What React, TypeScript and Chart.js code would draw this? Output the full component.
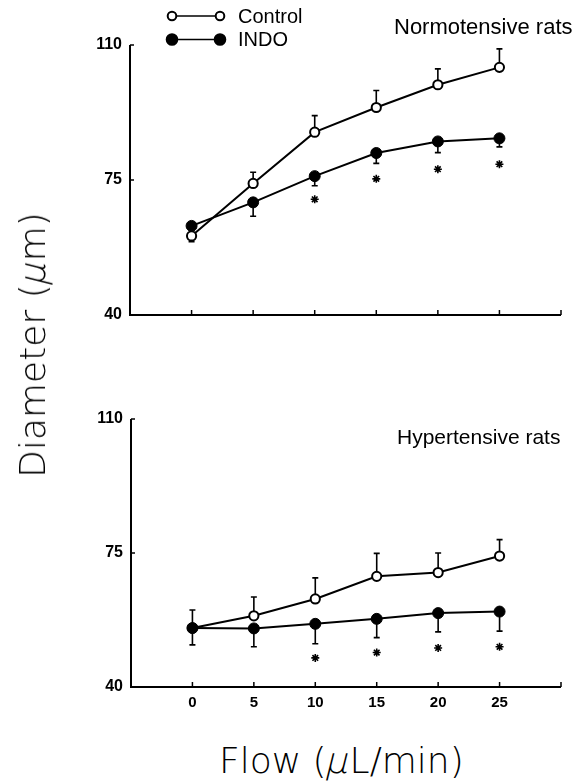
import React, { useEffect, useRef } from "react";
import { Chart, registerables } from "chart.js";

Chart.register(...registerables);

// ---- data ----
const flow = [0, 5, 10, 15, 20, 25];
const xTickValues = [0, 5, 10, 15, 20, 25];
const yTickValues = [40, 75, 110];
const starFlow = [10, 15, 20, 25];

const normoControl = [60.5, 74.1, 87.4, 93.8, 99.7, 104.2];
const normoControlErrUp = [0, 2.9, 4.3, 4.4, 4.1, 4.8];
const normoControlErrDown = [1.5, 0, 0, 0, 0, 0];
const normoIndo = [63.1, 69.2, 76.0, 82.0, 85.0, 85.8];
const normoIndoErrDown = [0, 3.6, 2.5, 2.7, 2.9, 2.2];
const normoStars = [70.0, 75.3, 77.8, 79.1];

const hyperControl = [55.4, 58.6, 63.0, 68.9, 69.9, 74.2];
const hyperControlErrUp = [4.7, 4.9, 5.5, 6.0, 5.1, 4.3];
const hyperIndo = [55.4, 55.3, 56.5, 57.8, 59.3, 59.7];
const hyperIndoErrDown = [4.4, 4.8, 5.2, 4.9, 4.9, 5.1];
const hyperStars = [47.6, 49.0, 50.2, 50.5];

const legendLabels = ["Control", "INDO"];

type Bar = { values: number[]; up?: number[]; down?: number[] };

const errorBarPlugin = {
  id: "errorBars",
  beforeDatasetsDraw(chart: any, _args: any, opts: any) {
    const ctx = chart.ctx;
    const xs = chart.scales.x;
    const ys = chart.scales.y;
    ctx.save();
    ctx.strokeStyle = "#000";
    ctx.lineWidth = 1.6;
    (opts.bars as Bar[]).forEach((bar) => {
      flow.forEach((f, i) => {
        const px = xs.getPixelForValue(f);
        const v = bar.values[i];
        const py = ys.getPixelForValue(v);
        const parts: [number, number][] = [
          [bar.up ? bar.up[i] : 0, 1],
          [bar.down ? bar.down[i] : 0, -1],
        ];
        parts.forEach(([err, sign]) => {
          if (!err) return;
          const pe = ys.getPixelForValue(v + sign * err);
          ctx.beginPath();
          ctx.moveTo(px, py);
          ctx.lineTo(px, pe);
          ctx.moveTo(px - 3, pe);
          ctx.lineTo(px + 3, pe);
          ctx.stroke();
        });
      });
    });
    ctx.restore();
  },
};

const axesPlugin = {
  id: "axesDraw",
  afterDraw(chart: any) {
    const ctx = chart.ctx;
    const xs = chart.scales.x;
    const ys = chart.scales.y;
    const { left, right, top, bottom } = chart.chartArea;
    ctx.save();
    ctx.strokeStyle = "#000";
    ctx.lineWidth = 2;
    ctx.beginPath();
    ctx.moveTo(left, top);
    ctx.lineTo(left, bottom);
    ctx.lineTo(right, bottom);
    ctx.stroke();
    ctx.lineWidth = 1.5;
    ctx.beginPath();
    [...xTickValues, xs.max].forEach((v) => {
      const px = xs.getPixelForValue(v);
      ctx.moveTo(px, bottom);
      ctx.lineTo(px, bottom - 5);
    });
    yTickValues.forEach((v) => {
      const py = ys.getPixelForValue(v);
      ctx.moveTo(left, py);
      ctx.lineTo(left + 4, py);
    });
    ctx.stroke();
    ctx.restore();
  },
};

const legendPlugin = {
  id: "customLegend",
  afterDraw(chart: any, _args: any, opts: any) {
    if (!opts.show) return;
    const ctx = chart.ctx;
    ctx.save();
    const rows = [
      { y: 16, fill: "#fff", r: 4.3, label: legendLabels[0] },
      { y: 39.5, fill: "#000", r: 5.3, label: legendLabels[1] },
    ];
    rows.forEach((row) => {
      ctx.strokeStyle = "#000";
      ctx.lineWidth = 1.5;
      ctx.beginPath();
      ctx.moveTo(172, row.y);
      ctx.lineTo(220, row.y);
      ctx.stroke();
      [172, 220].forEach((cx) => {
        ctx.beginPath();
        ctx.arc(cx, row.y, row.r, 0, Math.PI * 2);
        ctx.fillStyle = row.fill;
        ctx.fill();
        ctx.lineWidth = 2;
        ctx.stroke();
      });
      ctx.fillStyle = "#000";
      ctx.font = '20px "Liberation Sans", Arial, sans-serif';
      ctx.textBaseline = "middle";
      ctx.textAlign = "left";
      ctx.fillText(row.label, 238, row.y + 1);
    });
    ctx.restore();
  },
};

type PanelProps = {
  top: number;
  height: number;
  areaTop: number;
  areaBottom: number;
  axisWidth: number;
  showXLabels: boolean;
  control: number[];
  controlUp: number[];
  controlDown?: number[];
  indo: number[];
  indoDown: number[];
  stars: number[];
  controlOnTop: boolean;
  legend: boolean;
};

function Panel(p: PanelProps) {
  const ref = useRef<HTMLCanvasElement | null>(null);
  useEffect(() => {
    if (!ref.current) return;
    const pts = (vals: number[], xsArr: number[]) => xsArr.map((x, i) => ({ x, y: vals[i] }));
    const chart = new Chart(ref.current, {
      type: "scatter",
      data: {
        datasets: [
          {
            label: legendLabels[0],
            data: pts(p.control, flow),
            showLine: true,
            borderColor: "#000",
            borderWidth: 2,
            pointRadius: 4.6,
            pointBackgroundColor: "#fff",
            pointBorderColor: "#000",
            pointBorderWidth: 2,
            order: p.controlOnTop ? 0 : 1,
          },
          {
            label: legendLabels[1],
            data: pts(p.indo, flow),
            showLine: true,
            borderColor: "#000",
            borderWidth: 2,
            pointRadius: 5.5,
            pointBackgroundColor: "#000",
            pointBorderColor: "#000",
            pointBorderWidth: 1,
            order: p.controlOnTop ? 1 : 0,
          },
          {
            label: "*",
            data: pts(p.stars, starFlow),
            showLine: false,
            pointStyle: "star",
            pointRadius: 4,
            pointBorderColor: "#000",
            pointBorderWidth: 1.6,
            order: 2,
          },
        ],
      },
      options: {
        animation: false,
        responsive: false,
        devicePixelRatio: 1,
        events: [],
        layout: { padding: { top: p.areaTop, right: 21, left: 0, bottom: 0 } },
        scales: {
          x: {
            type: "linear",
            min: -5,
            max: 30,
            grid: { display: false, drawTicks: false },
            border: { display: false },
            afterBuildTicks: (s: any) => {
              s.ticks = xTickValues.map((v) => ({ value: v }));
            },
            afterFit: (s: any) => {
              s.height = p.height - p.areaBottom;
            },
            ticks: {
              display: p.showXLabels,
              padding: 7,
              color: "#000",
              maxRotation: 0,
              font: { family: '"Liberation Sans", Arial, sans-serif', size: 15, weight: "bold" },
            },
          },
          y: {
            type: "linear",
            min: 40,
            max: 110,
            grid: { display: false, drawTicks: false },
            border: { display: false },
            afterBuildTicks: (s: any) => {
              s.ticks = yTickValues.map((v) => ({ value: v }));
            },
            afterFit: (s: any) => {
              s.width = p.axisWidth;
            },
            ticks: {
              padding: 8,
              color: "#000",
              font: { family: '"Liberation Sans", Arial, sans-serif', size: 16, weight: "bold" },
            },
          },
        },
        plugins: {
          legend: { display: false },
          tooltip: { enabled: false },
          errorBars: {
            bars: [
              { values: p.control, up: p.controlUp, down: p.controlDown },
              { values: p.indo, down: p.indoDown },
            ],
          },
          customLegend: { show: p.legend },
        } as any,
      },
      plugins: [errorBarPlugin, axesPlugin, legendPlugin],
    });
    return () => chart.destroy();
  }, []);
  return (
    <canvas
      ref={ref}
      width={582}
      height={p.height}
      style={{ position: "absolute", left: 0, top: p.top, width: 582, height: p.height }}
    />
  );
}

const titleFont = '"Liberation Sans", Arial, sans-serif';
const axisFont = '"DejaVu Sans", sans-serif';
const muStyle = { display: "inline-block", transform: "skewX(-14deg)" } as const;

export default function App() {
  return (
    <div style={{ position: "absolute", left: 0, top: 0, width: 582, height: 782, background: "#fff", overflow: "hidden" }}>
      <Panel
        top={0}
        height={340}
        areaTop={45}
        areaBottom={315}
        axisWidth={130}
        showXLabels={false}
        control={normoControl}
        controlUp={normoControlErrUp}
        controlDown={normoControlErrDown}
        indo={normoIndo}
        indoDown={normoIndoErrDown}
        stars={normoStars}
        controlOnTop={true}
        legend={true}
      />
      <Panel
        top={340}
        height={380}
        areaTop={79}
        areaBottom={347}
        axisWidth={131}
        showXLabels={true}
        control={hyperControl}
        controlUp={hyperControlErrUp}
        indo={hyperIndo}
        indoDown={hyperIndoErrDown}
        stars={hyperStars}
        controlOnTop={false}
        legend={false}
      />
      <div style={{ position: "absolute", left: 394, top: 16, fontFamily: titleFont, fontSize: 22, lineHeight: 1, whiteSpace: "nowrap", color: "#000" }}>
        Normotensive rats
      </div>
      <div style={{ position: "absolute", left: 397, top: 426, fontFamily: titleFont, fontSize: 21, lineHeight: 1, whiteSpace: "nowrap", color: "#000" }}>
        Hypertensive rats
      </div>
      <div
        style={{
          position: "absolute",
          left: 33,
          top: 345,
          transform: "translate(-50%, -50%) rotate(-90deg)",
          fontFamily: axisFont,
          fontWeight: 200,
          fontSize: 36,
          lineHeight: 1,
          whiteSpace: "nowrap",
          color: "#000",
        }}
      >
        Diameter (<span style={muStyle}>μ</span>m)
      </div>
      <div
        style={{
          position: "absolute",
          left: 219,
          top: 743,
          fontFamily: axisFont,
          fontWeight: 200,
          fontSize: 36,
          lineHeight: 1,
          whiteSpace: "nowrap",
          color: "#000",
        }}
      >
        Flow (<span style={muStyle}>μ</span>L/min)
      </div>
    </div>
  );
}
